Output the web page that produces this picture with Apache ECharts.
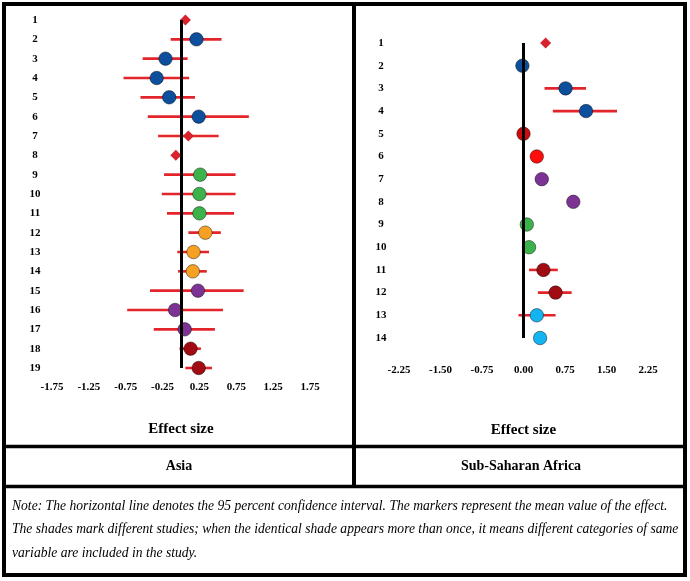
<!DOCTYPE html>
<html>
<head>
<meta charset="utf-8">
<script src="https://cdn.jsdelivr.net/npm/echarts@6/dist/echarts.min.js"></script>
<style>
html,body{margin:0;padding:0;background:#fff;}
#chart{width:690px;height:581px;}
</style>
</head>
<body>
<div id="chart"></div>
<script>
// ---------- DATA ----------
var asiaRows = ['1','2','3','4','5','6','7','8','9','10','11','12','13','14','15','16','17','18','19'];
var asiaMean = [0.06, 0.21, -0.21, -0.33, -0.16, 0.24, 0.10, -0.07, 0.26, 0.25, 0.25, 0.33, 0.17, 0.16, 0.23, -0.08, 0.05, 0.13, 0.24];
var asiaLow  = [null, -0.14, -0.52, -0.78, -0.55, -0.45, -0.31, null, -0.23, -0.26, -0.19, 0.10, -0.05, -0.04, -0.42, -0.73, -0.37, -0.02, 0.06];
var asiaHigh = [null, 0.55, 0.09, 0.11, 0.19, 0.92, 0.51, null, 0.74, 0.74, 0.72, 0.54, 0.38, 0.35, 0.85, 0.57, 0.46, 0.27, 0.42];
var asiaStudy = ['diamond','blue','blue','blue','blue','blue','diamond','diamond','green','green','green','orange','orange','orange','purple','purple','purple','darkred','darkred'];

var ssaRows = ['1','2','3','4','5','6','7','8','9','10','11','12','13','14'];
var ssaMean = [0.40, -0.02, 0.76, 1.13, 0.00, 0.24, 0.33, 0.90, 0.06, 0.10, 0.36, 0.58, 0.24, 0.30];
var ssaLow  = [null, null, 0.38, 0.53, null, null, null, null, null, null, 0.10, 0.26, -0.09, null];
var ssaHigh = [null, null, 1.13, 1.69, null, null, null, null, null, null, 0.62, 0.87, 0.58, null];
var ssaStudy = ['diamond','blue','blue','blue','red','brightred','purple','purple','green','green','darkred','darkred','lightblue','lightblue'];

var asiaTicks = [-1.75, -1.25, -0.75, -0.25, 0.25, 0.75, 1.25, 1.75];
var ssaTicks = [-2.25, -1.50, -0.75, 0.00, 0.75, 1.50, 2.25];

var noteLines = [
  'Note: The horizontal line denotes the 95 percent confidence interval. The markers represent the mean value of the effect.',
  'The shades mark different studies; when the identical shade appears more than once, it means different categories of same',
  'variable are included in the study.'
];

// ---------- STYLE ----------
var FONT = "'Liberation Serif','Times New Roman',serif";
var shade = {
  diamond: '#d8232d', blue: '#0c4f9c', green: '#3bb34a', orange: '#f6a123',
  purple: '#7d3393', darkred: '#a00c12', red: '#cc0c0c', brightred: '#ff0d0d', lightblue: '#13b4ef'
};
var CI_COLOR = '#e3242b';

function markerData(mean, study) {
  return mean.map(function (m, i) {
    var isD = study[i] === 'diamond';
    return {
      value: [m, i],
      symbol: isD ? 'diamond' : 'circle',
      symbolSize: isD ? 11 : 13.5,
      itemStyle: {
        color: shade[study[i]],
        opacity: 1,
        borderColor: isD ? shade[study[i]] : 'rgba(0,0,0,0.55)',
        borderWidth: isD ? 0 : 0.8
      }
    };
  });
}
function ciData(lo, hi) {
  var out = [];
  lo.forEach(function (l, i) { if (l !== null && hi[i] !== null) out.push([i, l, hi[i]]); });
  return out;
}
function renderCI(params, api) {
  var c = api.value(0);
  var p1 = api.coord([api.value(1), c]);
  var p2 = api.coord([api.value(2), c]);
  return { type: 'line', shape: { x1: p1[0], y1: p1[1], x2: p2[0], y2: p2[1] },
           style: { stroke: CI_COLOR, lineWidth: 2.6 } };
}
function tickFormatter(ticks) {
  return function (v) {
    for (var i = 0; i < ticks.length; i++) if (Math.abs(ticks[i] - v) < 1e-6) return v.toFixed(2);
    return '';
  };
}
function xAxisCfg(gi, min, max, interval, ticks, margin, nameGap) {
  return {
    gridIndex: gi, type: 'value', min: min, max: max, interval: interval,
    axisLine: { show: false }, axisTick: { show: false }, splitLine: { show: false },
    axisLabel: { formatter: tickFormatter(ticks), margin: margin, color: '#000',
                 fontFamily: FONT, fontWeight: 'bold', fontSize: 11 },
    name: 'Effect size', nameLocation: 'middle', nameGap: nameGap,
    nameTextStyle: { fontFamily: FONT, fontWeight: 'bold', fontSize: 15, color: '#000' }
  };
}
function yAxisCfg(gi, rows, margin) {
  return {
    gridIndex: gi, type: 'category', data: rows, inverse: true, boundaryGap: false,
    axisLine: { show: false }, axisTick: { show: false }, splitLine: { show: false },
    axisLabel: { align: 'center', margin: margin, color: '#000', interval: 0,
                 fontFamily: FONT, fontWeight: 'bold', fontSize: 11 }
  };
}
var zeroLine = {
  silent: true, symbol: 'none', label: { show: false },
  lineStyle: { color: '#000', width: 3, type: 'solid', opacity: 1 },
  data: [{ xAxis: 0 }]
};

var graphics = [
  { type: 'rect', shape: { x: 4, y: 4, width: 681, height: 571 },
    style: { fill: 'none', stroke: '#000', lineWidth: 4 }, z: 100 },
  { type: 'line', shape: { x1: 354, y1: 4, x2: 354, y2: 487 },
    style: { stroke: '#000', lineWidth: 4 }, z: 100 },
  { type: 'line', shape: { x1: 4, y1: 446.5, x2: 685, y2: 446.5 },
    style: { stroke: '#000', lineWidth: 3.5 }, z: 100 },
  { type: 'line', shape: { x1: 4, y1: 486.5, x2: 685, y2: 486.5 },
    style: { stroke: '#000', lineWidth: 3.5 }, z: 100 },
  { type: 'text', x: 179, y: 466, style: { text: 'Asia', font: 'bold 14px ' + FONT,
    fill: '#000', textAlign: 'center', textVerticalAlign: 'middle' } },
  { type: 'text', x: 521, y: 466, style: { text: 'Sub-Saharan Africa', font: 'bold 14px ' + FONT,
    fill: '#000', textAlign: 'center', textVerticalAlign: 'middle' } }
];
noteLines.forEach(function (t, i) {
  graphics.push({ type: 'text', x: 12, y: 506 + i * 23.5,
    style: { text: t, font: 'italic 13.6px ' + FONT, fill: '#000',
             textAlign: 'left', textVerticalAlign: 'middle' } });
});

var chart = echarts.init(document.getElementById('chart'), null, { renderer: 'canvas' });
chart.setOption({
  backgroundColor: '#fff',
  animation: false,
  grid: [
    { left: 52, width: 258, top: 20, height: 348 },
    { left: 399, width: 249, top: 43, height: 295 }
  ],
  xAxis: [
    xAxisCfg(0, -1.75, 1.75, 0.25, asiaTicks, 14, 54),
    xAxisCfg(1, -2.25, 2.25, 0.75, ssaTicks, 27, 85)
  ],
  yAxis: [ yAxisCfg(0, asiaRows, 17), yAxisCfg(1, ssaRows, 18) ],
  graphic: graphics,
  series: [
    { type: 'custom', xAxisIndex: 0, yAxisIndex: 0, renderItem: renderCI,
      encode: { x: [1, 2], y: 0 }, data: ciData(asiaLow, asiaHigh), z: 2, silent: true },
    { type: 'scatter', xAxisIndex: 0, yAxisIndex: 0, data: markerData(asiaMean, asiaStudy),
      z: 4, markLine: zeroLine },
    { type: 'custom', xAxisIndex: 1, yAxisIndex: 1, renderItem: renderCI,
      encode: { x: [1, 2], y: 0 }, data: ciData(ssaLow, ssaHigh), z: 2, silent: true },
    { type: 'scatter', xAxisIndex: 1, yAxisIndex: 1, data: markerData(ssaMean, ssaStudy),
      z: 4, markLine: zeroLine }
  ]
});
</script>
</body>
</html>
